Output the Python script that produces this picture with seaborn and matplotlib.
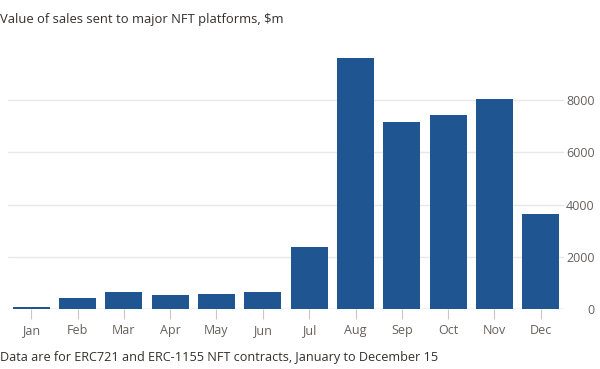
import matplotlib
matplotlib.use("Agg")
import matplotlib.pyplot as plt
import seaborn as sns
import pandas as pd

months = ["Jan", "Feb", "Mar", "Apr", "May", "Jun", "Jul", "Aug", "Sep", "Oct", "Nov", "Dec"]
sales = [60, 430, 640, 525, 575, 650, 2360, 9600, 7160, 7430, 8030, 3640]
yticks = [0, 2000, 4000, 6000, 8000]

title = "Value of sales sent to major NFT platforms, $m"
note = "Data are for ERC721 and ERC-1155 NFT contracts, January to December 15"

sns.set_theme(style="white")
plt.rcParams['font.family'] = ['Open Sans', 'DejaVu Sans']

df = pd.DataFrame({"month": months, "sales": sales})

fig = plt.figure(figsize=(6, 3.69), dpi=100)
fig.patch.set_facecolor("white")
ax = fig.add_axes([8/600, 1 - 309/369, (564 - 8)/600, (309 - 50)/369])

ax.set_ylim(0, 9914)
ax.set_yticks(yticks)
for v in yticks[1:]:
    ax.axhline(v, color="#e8e8e8", lw=1, zorder=0)

sns.barplot(data=df, x="month", y="sales", color="#1f5590", saturation=1,
            width=0.8, ax=ax, zorder=2, linewidth=0, edgecolor="none")
ax.set_xlim(-0.5, 11.5)
ax.axhline(0, color="#bdbdbd", lw=1, zorder=1)

for s in ax.spines.values():
    s.set_visible(False)

ax.set_xlabel("")
ax.set_ylabel("")
ax.yaxis.tick_right()
ax.tick_params(axis="y", length=0, pad=22, labelsize=9, labelcolor="#66605c")
for lbl in ax.get_yticklabels():
    lbl.set_ha("right")
ax.tick_params(axis="x", bottom=True, length=7, width=0.8, color="#c8c8c8",
               labelsize=9, labelcolor="#66605c", pad=4)

fig.text(0.0, 1 - 20/369, title, ha="left", va="center", fontsize=9.4, color="#33302e")
fig.text(0.0, 1 - 358/369, note, ha="left", va="center", fontsize=9.1, color="#33302e")

fig.savefig("out.png", dpi=100, facecolor="white")
